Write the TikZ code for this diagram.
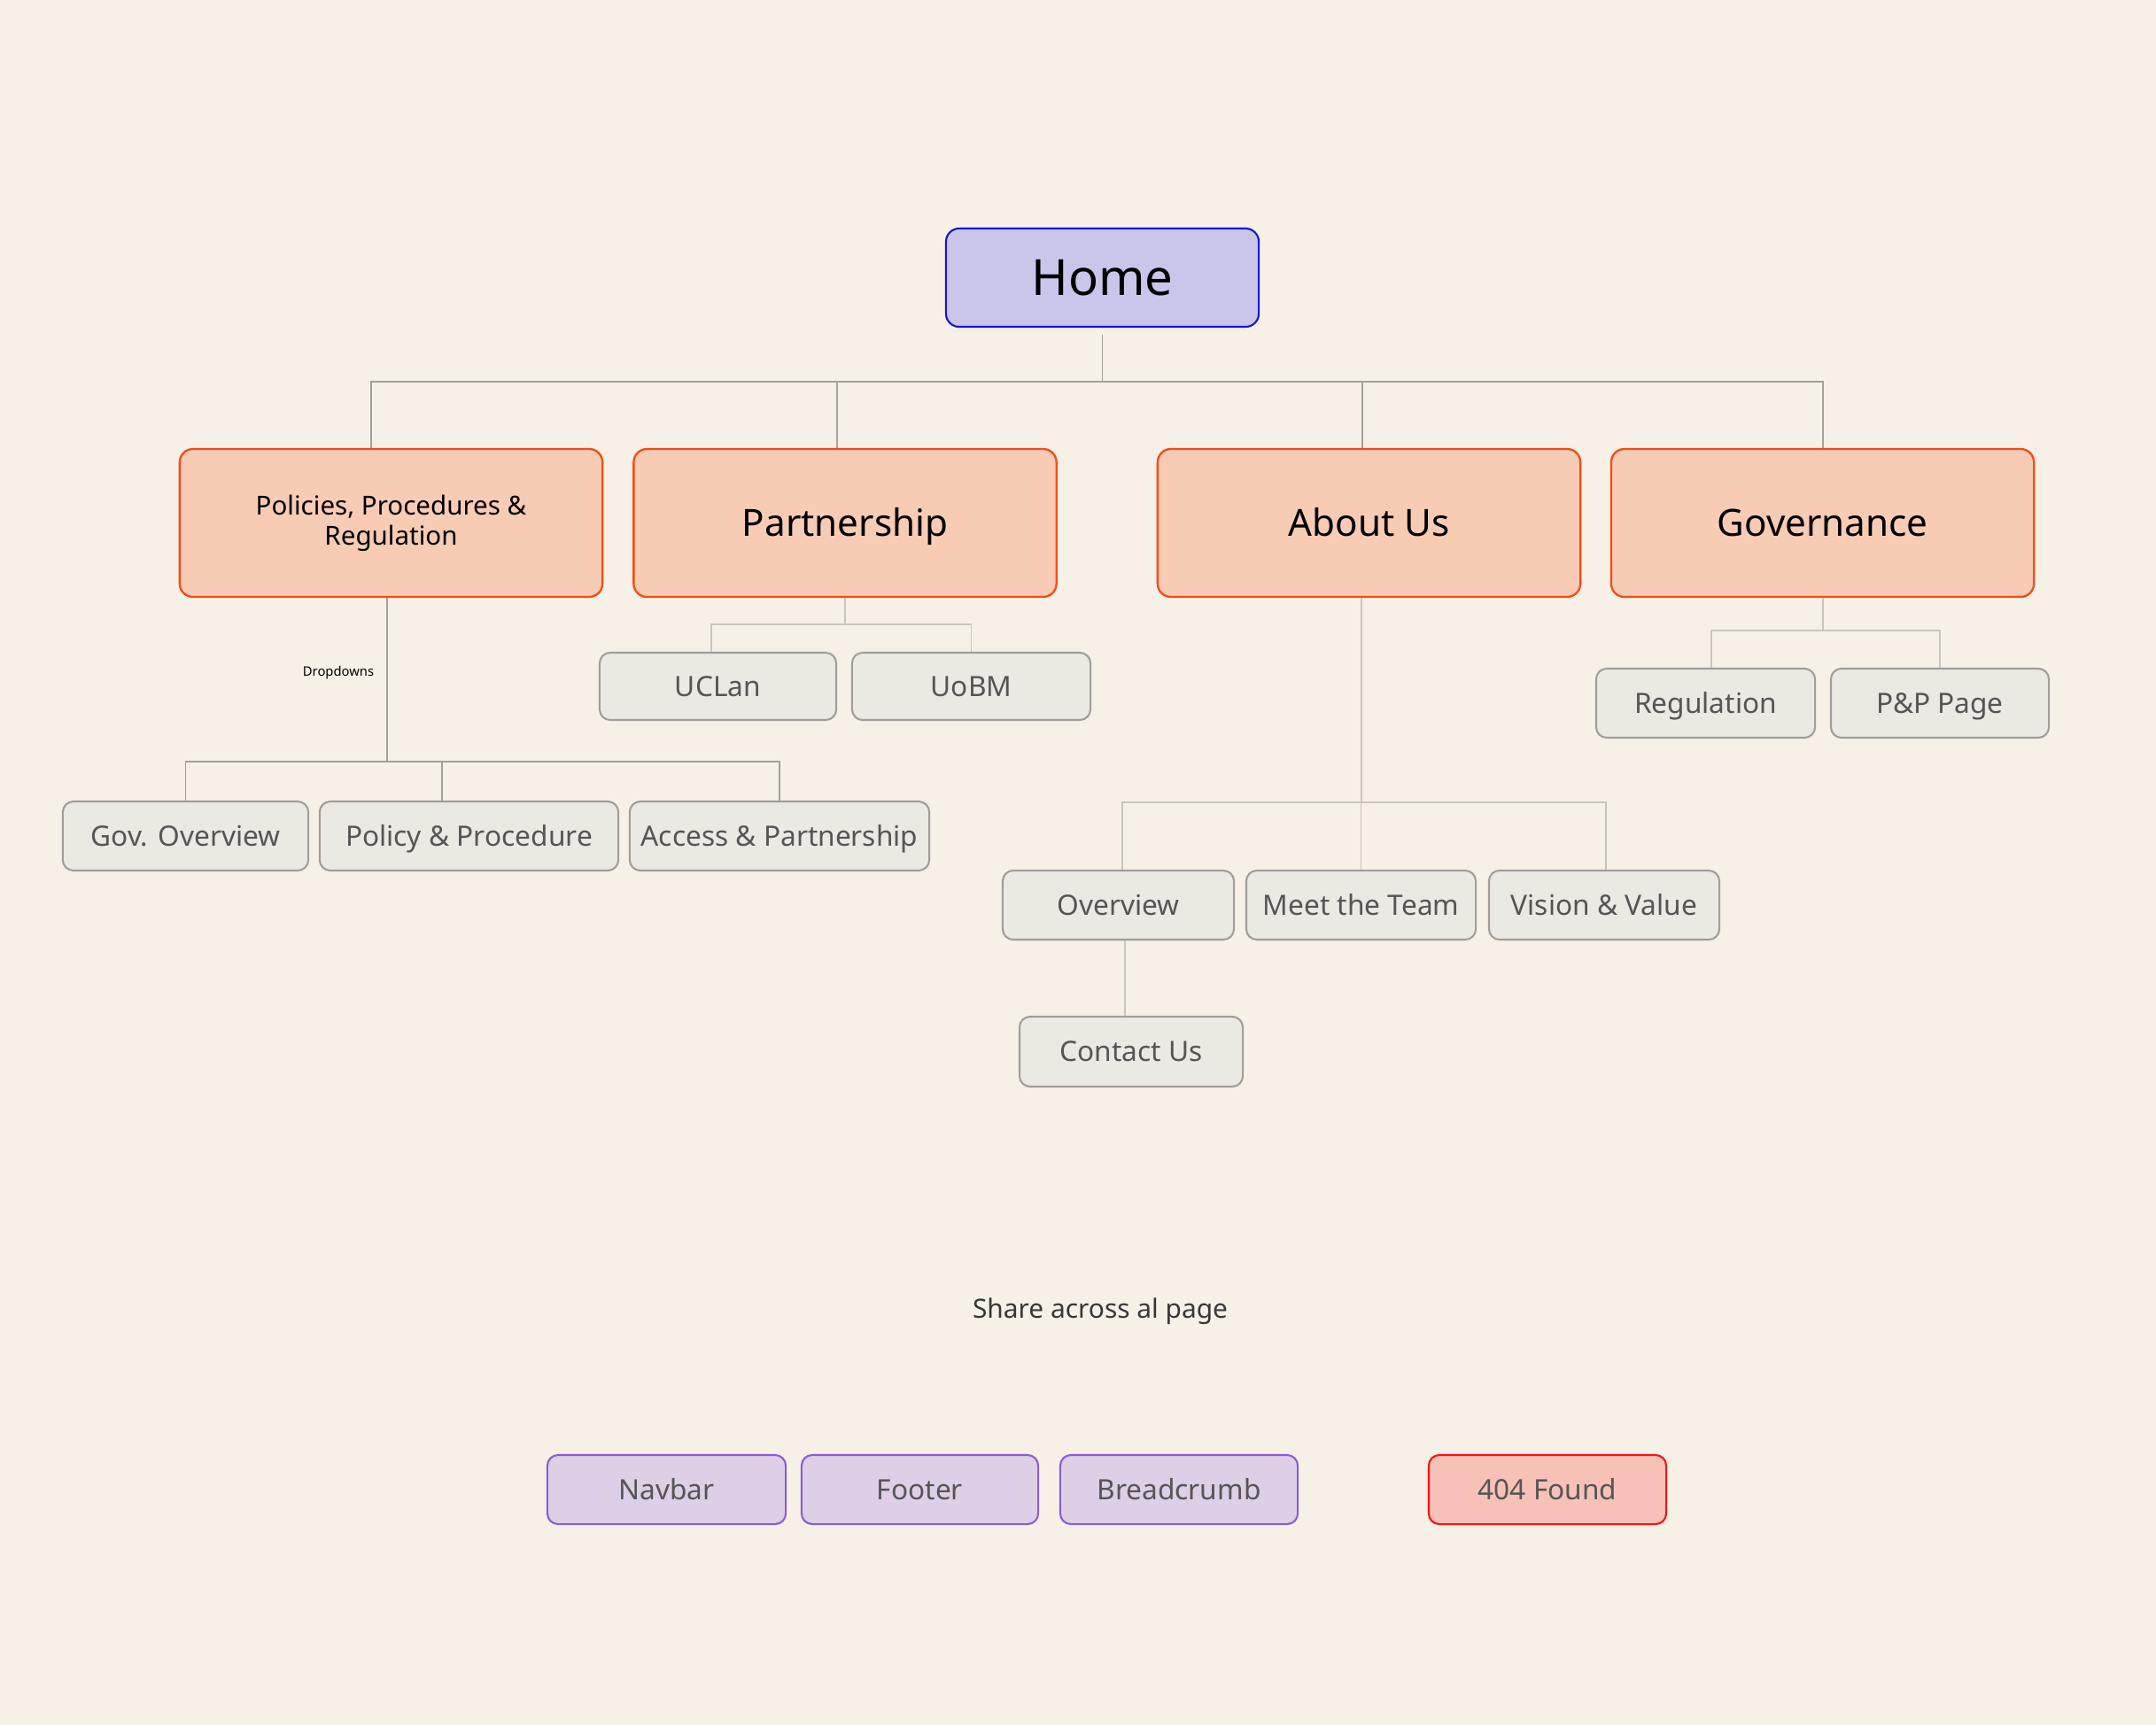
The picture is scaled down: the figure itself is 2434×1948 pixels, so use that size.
\documentclass[tikz,border=0pt]{standalone}
\usepackage{fontspec}
\setmainfont{Noto Sans}
\definecolor{bg}{HTML}{F7F0E7}
\definecolor{homefill}{HTML}{CAC5EA}
\definecolor{homedraw}{HTML}{1414E6}
\definecolor{orfill}{HTML}{F8CBB5}
\definecolor{ordraw}{HTML}{FA4A10}
\definecolor{gyfill}{HTML}{ECE8E2}
\definecolor{gydraw}{HTML}{A09E9B}
\definecolor{gytext}{HTML}{555555}
\definecolor{pufill}{HTML}{DDCFE5}
\definecolor{pudraw}{HTML}{8A5CDB}
\definecolor{rdfill}{HTML}{F7C1B8}
\definecolor{rddraw}{HTML}{FF1010}
\definecolor{lnA}{HTML}{A3A099}
\definecolor{lnB}{HTML}{C9C5BD}
\begin{document}
\begin{tikzpicture}[x=0.01cm,y=-0.01cm,
  homebox/.style={draw=homedraw,fill=homefill,line width=0.6pt,rounded corners=0.15cm,minimum width=3.53cm,minimum height=1.11cm,inner sep=0pt,text height=11.4pt,text depth=0pt,font=\fontsize{16}{19}\selectfont},
  orbox/.style={draw=ordraw,fill=orfill,line width=0.65pt,rounded corners=0.15cm,minimum width=4.77cm,minimum height=1.67cm,inner sep=0pt,text height=8.6pt,text depth=0pt,font=\fontsize{12}{14}\selectfont},
  gybox/.style={draw=gydraw,fill=gyfill,line width=0.6pt,rounded corners=0.12cm,minimum height=0.78cm,inner sep=0pt,text height=6.4pt,text depth=0pt,text=gytext,font=\fontsize{9}{10}\selectfont},
  pubox/.style={draw=pudraw,fill=pufill,line width=0.6pt,rounded corners=0.12cm,minimum width=2.68cm,minimum height=0.78cm,inner sep=0pt,text height=6.4pt,text depth=0pt,text=gytext,font=\fontsize{9}{10}\selectfont},
  rdbox/.style={draw=rddraw,fill=rdfill,line width=0.6pt,rounded corners=0.12cm,minimum width=2.68cm,minimum height=0.78cm,inner sep=0pt,text height=6.4pt,text depth=0pt,text=gytext,font=\fontsize{9}{10}\selectfont},
  connA/.style={draw=lnA,line width=0.55pt},
  connB/.style={draw=lnB,line width=0.55pt}]
\fill[bg] (0,0) rectangle (2434,1948);
\useasboundingbox (0,0) rectangle (2434,1948);

% top level
\node[homebox] (home) at (1244.5,313.5) {Home};
\node[orbox,text height=,text depth=,font=\fontsize{8.4}{9.6}\selectfont,align=center] (pol) at (441.5,590.5) {Policies, Procedures \&\\Regulation};
\node[orbox] (part) at (954,590.5) {Partnership};
\node[orbox] (about) at (1545.5,590.5) {About Us};
\node[orbox] (gov) at (2057.5,590.5) {Governance};

% policies children
\node[gybox,minimum width=2.77cm] (gover) at (209.5,944) {Gov. Overview};
\node[gybox,minimum width=3.37cm] (polproc) at (529.5,944) {Policy \& Procedure};
\node[gybox,minimum width=3.38cm] (access) at (880,944) {Access \& Partnership};
\node[font=\fontsize{4.2}{5}\selectfont] (drop) at (382,760) {Dropdowns};

% partnership children
\node[gybox,minimum width=2.67cm,minimum height=0.76cm] (uclan) at (810.5,775) {UCLan};
\node[gybox,minimum width=2.69cm,minimum height=0.76cm] (uobm) at (1096.5,775) {UoBM};

% about children
\node[gybox,minimum width=2.61cm] (overview) at (1262.5,1022) {Overview};
\node[gybox,minimum width=2.59cm] (team) at (1536.5,1022) {Meet the Team};
\node[gybox,minimum width=2.60cm] (vision) at (1811,1022) {Vision \& Value};
\node[gybox,minimum width=2.52cm,minimum height=0.79cm] (contact) at (1277,1187.5) {Contact Us};

% governance children
\node[gybox,minimum width=2.47cm] (regul) at (1925.5,794) {Regulation};
\node[gybox,minimum width=2.46cm] (pp) at (2190,794) {P\&P Page};

% shared
\node[text=black!78,font=\fontsize{8.5}{10}\selectfont] (share) at (1242,1481) {Share across al page};
\node[pubox,minimum width=2.69cm] (navbar) at (752.5,1682) {Navbar};
\node[pubox,minimum width=2.67cm] (footer) at (1038.5,1682) {Footer};
\node[pubox] (bread) at (1331,1682) {Breadcrumb};
\node[rdbox] (nf) at (1747,1682) {404 Found};

% connectors: home bus
\draw[connA] ([yshift=-0.08cm]home.south) -- (home.south |- 0,431);
\draw[connA] (419,0 |- pol.north) -- (419,431) -- (gov.north |- 0,431) -- (gov.north);
\draw[connA] (945,0 |- part.north) -- (945,431);
\draw[connA] (1538,0 |- about.north) -- (1538,431);

% policies tree
\draw[connA] (437,0 |- pol.south) -- (437,860);
\draw[connA] (gover.north) -- (gover.north |- 0,860) -- (access.north |- 0,860) -- (access.north);
\draw[connA] (499,0 |- polproc.north) -- (499,860);

% partnership tree
\draw[connB] (part.south) -- (part.south |- 0,705);
\draw[connB] (803,0 |- uclan.north) -- (803,705) -- (uobm.north |- 0,705) -- (uobm.north);

% about tree
\draw[connB] (1537,0 |- about.south) -- (1537,906);
\draw[connB] (1267,0 |- overview.north) -- (1267,906) -- (1813,906) -- (1813,0 |- vision.north);
\draw[connB] (team.north) -- (team.north |- 0,906);
\draw[connB] (1270,0 |- overview.south) -- (1270,0 |- contact.north);

% governance tree
\draw[connB] (gov.south) -- (gov.south |- 0,712);
\draw[connB] (1932,0 |- regul.north) -- (1932,712) -- (pp.north |- 0,712) -- (pp.north);
\end{tikzpicture}
\end{document}
